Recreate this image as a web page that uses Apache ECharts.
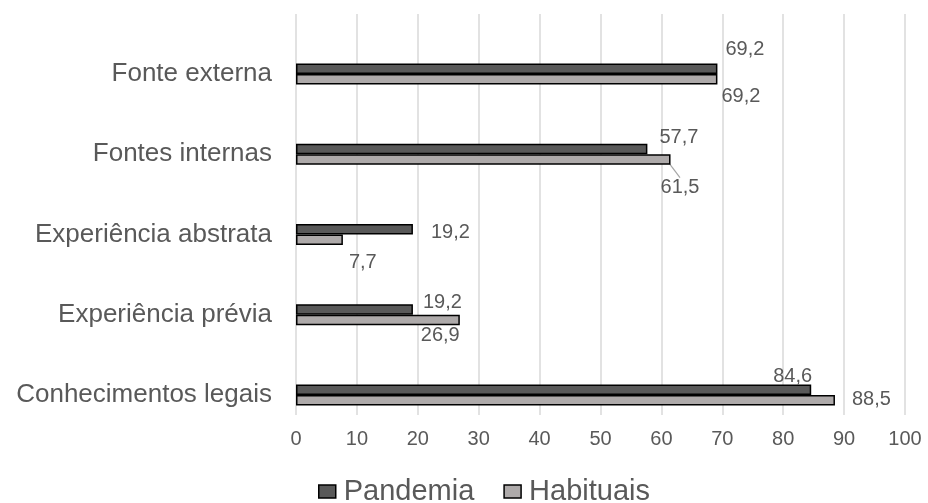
<!DOCTYPE html>
<html>
<head>
<meta charset="utf-8">
<script src="https://cdn.jsdelivr.net/npm/echarts@6/dist/echarts.min.js"></script>
<style>
  html, body { margin: 0; padding: 0; background: #fff; }
  #chart { width: 928px; height: 503px; }
</style>
</head>
<body>
<div id="chart"></div>
<script>
// Categories, top to bottom
const categories = ['Fonte externa', 'Fontes internas', 'Experiência abstrata', 'Experiência prévia', 'Conhecimentos legais'];
// Percentages per series
const pandemia = [69.2, 57.7, 19.2, 19.2, 84.6];
const habituais = [69.2, 61.5, 7.7, 26.9, 88.5];
const seriesNames = ['Pandemia', 'Habituais'];
const xTicks = { min: 0, max: 100, step: 10 };

// Where each value label sits relative to the end of its bar (dx, dy in px)
const pandemiaLabelShift = [[8, -19], [12, -12], [18, 3], [10, -7], [-38, -13]];
const habituaisLabelShift = [[4, 17], [-10, 28], [6, 23], [-39, 16], [17, -1]];

const textColor = '#595959';
const fontFamily = '"Liberation Sans", Arial, sans-serif';
const fmt = v => String(v).replace('.', ',');

function barSeries(name, values, color, shifts, leaderIndex) {
  return {
    name: name,
    type: 'bar',
    xAxisIndex: 1,
    yAxisIndex: 1,
    barWidth: 10.5,
    barGap: '0%',
    itemStyle: { color: color, borderColor: '#000', borderWidth: 1.5 },
    label: {
      show: true,
      position: 'right',
      distance: 0,
      color: textColor,
      fontFamily: fontFamily,
      fontSize: 20,
      formatter: p => fmt(p.value)
    },
    labelLayout: p => ({ dx: shifts[p.dataIndex][0], dy: shifts[p.dataIndex][1] }),
    labelLine: { show: false, lineStyle: { color: '#a6a6a6', width: 1.2 } },
    data: values.map((v, i) => i === leaderIndex
      ? { value: v, labelLine: { show: true, lineStyle: { color: '#a6a6a6', width: 1.2 } } }
      : v)
  };
}

const chart = echarts.init(document.getElementById('chart'), null, { renderer: 'canvas' });
chart.setOption({
  animation: false,
  textStyle: { fontFamily: fontFamily },
  legend: {
    data: seriesNames,
    top: 472,
    left: 313,
    icon: 'rect',
    itemWidth: 17,
    itemHeight: 13,
    itemGap: 29,
    itemStyle: { borderColor: '#000', borderWidth: 1.5 },
    textStyle: { color: textColor, fontSize: 29, fontFamily: fontFamily, padding: [0, 0, 0, 3] }
  },
  grid: [
    // gridlines + value axis
    { left: 296, right: 23, top: 14, bottom: 88, containLabel: false },
    // bars + category labels
    { left: 296, right: 23, top: 34, bottom: 68, containLabel: false }
  ],
  xAxis: [
    {
      gridIndex: 0,
      type: 'value',
      min: xTicks.min,
      max: xTicks.max,
      interval: xTicks.step,
      axisLine: { show: false },
      axisTick: { show: false },
      splitLine: { show: true, lineStyle: { color: '#d9d9d9', width: 1.5 } },
      axisLabel: { color: textColor, fontSize: 20, margin: 14, fontFamily: fontFamily }
    },
    {
      gridIndex: 1,
      type: 'value',
      min: xTicks.min,
      max: xTicks.max,
      show: false
    }
  ],
  yAxis: [
    {
      gridIndex: 0,
      type: 'category',
      data: categories,
      show: false
    },
    {
      gridIndex: 1,
      type: 'category',
      data: categories,
      inverse: true,
      axisLine: { show: false },
      axisTick: { show: false },
      splitLine: { show: false },
      axisLabel: { color: textColor, fontSize: 26, margin: 24, fontFamily: fontFamily }
    }
  ],
  series: [
    barSeries(seriesNames[0], pandemia, '#595959', pandemiaLabelShift, -1),
    barSeries(seriesNames[1], habituais, '#aeaaaa', habituaisLabelShift, 1)
  ]
});
</script>
</body>
</html>
